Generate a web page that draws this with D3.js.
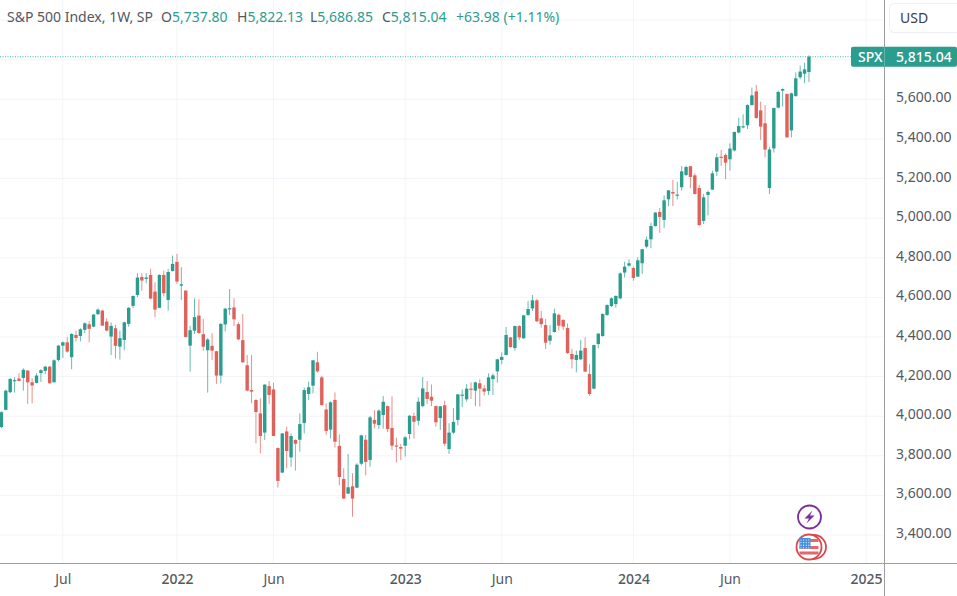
<!DOCTYPE html>
<html>
<head>
<meta charset="utf-8">
<script src="https://cdn.jsdelivr.net/npm/d3@7"></script>
<style>
  html, body { margin: 0; padding: 0; background: #fff; overflow: hidden; }
  svg { display: block; font-family: "Noto Sans", sans-serif; }
</style>
</head>
<body>
<svg id="chart" width="957" height="596"></svg>
<script>
// --- Weekly candles -------------------------------------------------
const firstWeek = "2021-03-29";

const opens = [
  3945,4032,4121,4180,4190,4193,4230,4171,4168,4218,
  4229,4250,4171,4284,4356,4373,4298,4410,4405,4436,
  4464,4452,4515,4533,4478,4402,4444,4351,4385,4466,
  4557,4612,4703,4693,4713,4629,4547,4713,4587,4733,
  4779,4659,4634,4356,4432,4508,4414,4333,4355,4328,
  4205,4463,4541,4549,4465,4384,4257,4132,4082,4014,
  3917,4152,4135,3839,3715,3923,3792,3880,3881,3965,
  4112,4154,4272,4196,4034,3932,4082,3850,3683,3609,
  3646,3639,3760,3881,3779,3981,3955,4006,4051,3940,
  3852,3844,3851,3910,4001,3977,4051,4122,4098,4051,
  3991,4055,3834,3917,3981,4105,4085,4139,4129,4166,
  4140,4127,4187,4226,4284,4309,4398,4344,4455,4393,
  4511,4544,4585,4494,4460,4381,4425,4512,4486,4445,
  4314,4284,4287,4344,4213,4139,4364,4405,4511,4556,
  4566,4595,4725,4760,4748,4705,4772,4856,4893,4960,
  5031,4991,5095,5132,5114,5156,5218,5262,5216,5152,
  4986,5117,5144,5235,5310,5319,5297,5342,5432,5459,
  5469,5571,5640,5544,5479,5152,5352,5558,5644,5627,
  5443,5617,5711,5729,5737.8
];
const highs = [
  4025,4133,4192,4197,4217,4242,4234,4192,4217,4237,
  4254,4254,4287,4360,4377,4399,4419,4432,4444,4473,
  4481,4516,4545,4537,4494,4473,4461,4432,4478,4550,
  4609,4722,4722,4722,4744,4676,4717,4735,4744,4811,
  4820,4752,4636,4456,4595,4590,4491,4394,4419,4330,
  4469,4547,4642,4595,4474,4516,4309,4309,4085,4090,
  4162,4177,4169,3842,3915,3947,3913,3883,4014,4145,
  4174,4284,4325,4204,4065,4075,4120,3908,3737,3809,
  3712,3762,3907,3905,4001,4031,4035,4102,4053,4100,
  3891,3859,3900,4006,4018,4095,4198,4177,4160,4053,
  4051,4078,3964,4041,4112,4135,4162,4171,4174,4186,
  4157,4216,4216,4290,4322,4450,4400,4457,4460,4512,
  4581,4612,4592,4531,4491,4460,4543,4519,4489,4469,
  4339,4331,4385,4398,4262,4361,4418,4519,4565,4600,
  4610,4726,4780,4792,4755,4802,4845,4907,4977,5031,
  5051,5115,5142,5193,5184,5263,5265,5263,5226,5167,
  5122,5139,5240,5327,5344,5327,5378,5437,5507,5524,
  5575,5659,5672,5588,5571,5361,5558,5644,5655,5629,
  5634,5736,5770,5785,5822.13
];
const lows = [
  3940,4030,4116,4119,4176,4129,4062,4065,4166,4173,
  4212,4165,4170,4277,4294,4321,4237,4377,4378,4419,
  4373,4449,4511,4456,4429,4309,4291,4286,4333,4452,
  4545,4601,4634,4671,4590,4500,4545,4604,4533,4730,
  4668,4587,4397,4225,4415,4415,4330,4119,4284,4163,
  4166,4427,4511,4455,4384,4270,4125,4065,3863,3812,
  3880,4061,3898,3639,3713,3737,3745,3725,3821,3913,
  4082,4115,4220,4054,3905,3888,3841,3651,3582,3607,
  3492,3637,3752,3701,3745,3938,3935,3937,3920,3829,
  3767,3779,3796,3883,3886,3954,4045,4061,4051,3947,
  3930,3849,3809,3910,3954,4045,4073,4087,4051,4048,
  4104,4107,4107,4169,4262,4307,4346,4331,4385,4391,
  4507,4531,4475,4447,4339,4361,4422,4432,4435,4314,
  4241,4221,4284,4223,4103,4135,4344,4401,4507,4551,
  4548,4590,4700,4755,4684,4703,4718,4848,4848,4957,
  4925,4949,5061,5061,5095,5139,5213,5151,5119,4960,
  4970,5014,5142,5213,5263,5196,5240,5337,5428,5453,
  5450,5568,5502,5395,5307,5122,5331,5554,5563,5406,
  5408,5612,5701,5681,5686.85
];
const closes = [
  4020,4129,4188,4182,4178,4234,4171,4155,4205,4232,
  4250,4166,4282,4356,4373,4326,4415,4395,4439,4469,
  4441,4513,4538,4457,4432,4456,4355,4394,4474,4547,
  4607,4700,4685,4700,4594,4538,4713,4621,4728,4769,
  4680,4666,4400,4434,4500,4420,4351,4387,4331,4205,
  4466,4543,4545,4489,4388,4272,4129,4124,4021,3900,
  4159,4107,3900,3673,3913,3824,3900,3861,3960,4132,
  4146,4282,4226,4056,3925,4070,3871,3693,3584,3641,
  3584,3755,3903,3769,3994,3962,4028,4073,3935,3851,
  3846,3836,3893,4002,3972,4073,4140,4087,4078,3969,
  4050,3861,3917,3971,4110,4109,4139,4134,4171,4139,
  4124,4196,4206,4287,4299,4410,4349,4455,4398,4509,
  4541,4585,4479,4465,4371,4408,4519,4457,4452,4319,
  4287,4309,4331,4225,4112,4359,4417,4516,4561,4595,
  4607,4721,4755,4772,4698,4787,4843,4891,4960,5028,
  5006,5090,5140,5124,5119,5236,5258,5208,5122,4965,
  5105,5132,5226,5307,5305,5280,5351,5435,5465,5464,
  5571,5620,5506,5462,5346,5347,5556,5637,5652,5408,
  5630,5706,5740,5751.06,5815.04
];

const priceGrid = [3400,3600,3800,4000,4200,4400,4600,4800,5000,5200,5400,5600,5800,6000];
const priceLabels = [3400,3600,3800,4000,4200,4400,4600,4800,5000,5200,5400,5600];
const timeTicks = ["2021-07-05","2022-01-03","2022-06-06","2023-01-02","2023-06-05","2024-01-01","2024-06-03","2025-01-06"];
const timeLabels = ["Jul","2022","Jun","2023","Jun","2024","Jun","2025"];

const upColor = "#2a9d8f";
const downColor = "#e0605a";
const gridColor = "#f2f4f9";
const lineColor = "#9a9da3";
const textColor = "#555860";

// --- Scales ----------------------------------------------------------
const svg = d3.select("#chart");
const plotRight = 884, plotBottom = 563;
const parseDay = d3.utcParse("%Y-%m-%d");
const fmtPrice = d3.format(",.2f");

const x = d3.scaleUtc()
  .domain([parseDay(firstWeek), parseDay("2025-01-06")])
  .range([1.4, 866]);
const y = d3.scaleLinear().domain([3400, 5600]).range([535, 99.3]);

const lastClose = closes[closes.length - 1];
const candles = opens.map((o, i) => ({
  date: d3.utcMonday.offset(parseDay(firstWeek), i),
  o, h: highs[i], l: lows[i], c: closes[i],
}));

// --- Grid ------------------------------------------------------------
const tickDates = timeTicks.map(parseDay);

svg.append("g").selectAll("line").data(tickDates).enter().append("line")
  .attr("x1", (d) => x(d)).attr("x2", (d) => x(d))
  .attr("y1", 0).attr("y2", plotBottom)
  .attr("stroke", gridColor);
svg.append("g").selectAll("line").data(priceGrid).enter().append("line")
  .attr("x1", 0).attr("x2", plotRight)
  .attr("y1", (d) => y(d)).attr("y2", (d) => y(d))
  .attr("stroke", gridColor);

// --- Candles ---------------------------------------------------------
const candleSel = svg.append("g").selectAll("g").data(candles).enter().append("g")
  .attr("fill", (d) => (d.c >= d.o ? upColor : downColor))
  .attr("stroke", (d) => (d.c >= d.o ? upColor : downColor));
candleSel.append("line")
  .attr("x1", (d) => x(d.date)).attr("x2", (d) => x(d.date))
  .attr("y1", (d) => y(d.h)).attr("y2", (d) => y(d.l))
  .attr("stroke-width", 1).attr("stroke-opacity", 0.7);
candleSel.append("rect")
  .attr("x", (d) => x(d.date) - 1.7).attr("width", 3.4)
  .attr("y", (d) => y(Math.max(d.o, d.c)))
  .attr("height", (d) => Math.max(1.2, Math.abs(y(d.o) - y(d.c))))
  .attr("stroke", "none");

// Last price line
svg.append("line")
  .attr("x1", 0).attr("x2", 851)
  .attr("y1", y(lastClose)).attr("y2", y(lastClose))
  .attr("stroke", "#26a69a").attr("stroke-width", 0.8)
  .attr("stroke-dasharray", "1 1.5");

// --- Axes ------------------------------------------------------------
svg.append("rect").attr("x", plotRight).attr("y", 0)
  .attr("width", 957 - plotRight).attr("height", 596).attr("fill", "#fff");
svg.append("rect").attr("x", 0).attr("y", plotBottom)
  .attr("width", 957).attr("height", 596 - plotBottom).attr("fill", "#fff");

const yAxis = svg.append("g")
  .attr("transform", `translate(${plotRight},0)`)
  .call(d3.axisRight(y).tickValues(priceLabels).tickSize(0).tickPadding(12).tickFormat(fmtPrice));
yAxis.select(".domain").remove();
yAxis.selectAll("text")
  .attr("dy", "0.18em")
  .attr("fill", textColor).attr("font-size", 14)
  .attr("font-family", '"Noto Sans", sans-serif');

const xAxis = svg.append("g")
  .attr("transform", `translate(0,${plotBottom})`)
  .call(d3.axisBottom(x).tickValues(tickDates).tickSize(0).tickPadding(11)
    .tickFormat((d, i) => timeLabels[i]));
xAxis.select(".domain").remove();
xAxis.selectAll("text")
  .attr("fill", textColor).attr("font-size", 14)
  .attr("font-family", '"Noto Sans", sans-serif')
  .attr("font-weight", (d, i) => (/^\d/.test(timeLabels[i]) ? 500 : 400));

svg.append("line").attr("x1", 0).attr("x2", 957)
  .attr("y1", plotBottom + 0.5).attr("y2", plotBottom + 0.5).attr("stroke", lineColor);
svg.append("line").attr("x1", plotRight + 0.5).attr("x2", plotRight + 0.5)
  .attr("y1", 0).attr("y2", 596).attr("stroke", lineColor);

// --- Last price tag and currency button --------------------------------
svg.append("rect").attr("x", 851).attr("y", y(lastClose) - 10)
  .attr("width", 106).attr("height", 20).attr("rx", 2).attr("fill", "#2a9d8f");
svg.append("line").attr("x1", plotRight + 0.5).attr("x2", plotRight + 0.5)
  .attr("y1", y(lastClose) - 10).attr("y2", y(lastClose) + 10)
  .attr("stroke", "#fff").attr("stroke-opacity", 0.25);
svg.append("text").attr("x", 858).attr("y", y(lastClose) + 5)
  .attr("fill", "#fff").attr("font-size", 14).attr("font-weight", 500).text("SPX");
svg.append("text").attr("x", 896).attr("y", y(lastClose) + 5)
  .attr("fill", "#fff").attr("font-size", 14).attr("font-weight", 500).text(fmtPrice(lastClose));

svg.append("rect").attr("x", 889.5).attr("y", 3.5)
  .attr("width", 80).attr("height", 29).attr("rx", 5)
  .attr("fill", "#fff").attr("stroke", "#eceef2");
svg.append("text").attr("x", 900).attr("y", 22.5)
  .attr("fill", "#3a3d45").attr("font-size", 14).text("USD");

// --- Legend line -------------------------------------------------------
const last = candles[candles.length - 1];
const change = last.c - closes[closes.length - 2];
const legendParts = [
  { at: 7, label: "S&P 500 Index, 1W, SP", value: "" },
  { at: 161, label: "O", value: fmtPrice(last.o) },
  { at: 237, label: "H", value: fmtPrice(last.h) },
  { at: 310, label: "L", value: fmtPrice(last.l) },
  { at: 382, label: "C", value: fmtPrice(last.c) },
  { at: 456, label: "", value: `+${change.toFixed(2)} (+1.11%)` },
];
const legend = svg.append("g").selectAll("text").data(legendParts).enter().append("text")
  .attr("x", (d) => d.at).attr("y", 22).attr("font-size", 14);
legend.append("tspan").attr("fill", textColor).text((d) => d.label);
legend.append("tspan").attr("fill", "#2a9d8f").text((d) => d.value);

// --- Event badges ------------------------------------------------------
const earnings = svg.append("g").attr("transform", "translate(809.5,517)");
earnings.append("circle").attr("r", 11.5).attr("fill", "#fff")
  .attr("stroke", "#7b2f9e").attr("stroke-width", 1.8);
earnings.append("path").attr("d", "M3,-6.5L-5,1.5H-0.5L-3,6.5L5,-1.5H0.5Z").attr("fill", "#7b2f9e");

const flag = svg.append("g").attr("transform", "translate(809,547)");
flag.append("circle").attr("cx", 5).attr("r", 12).attr("fill", "#fff")
  .attr("stroke", "#d9494d").attr("stroke-width", 1.8);
flag.append("circle").attr("r", 12.5).attr("fill", "#fff")
  .attr("stroke", "#d9494d").attr("stroke-width", 1.8);
[-6.5, 0.5, 6].forEach((dy) => {
  flag.append("rect").attr("x", -9.5).attr("y", dy - 1.5)
    .attr("width", 19).attr("height", 3).attr("fill", "#e2686b");
});
flag.append("rect").attr("x", -9.5).attr("y", -9)
  .attr("width", 11).attr("height", 10.5).attr("fill", "#3f8fe0");
d3.range(-8, 1, 2.6).forEach((cx) => {
  d3.range(-7, 1, 2.6).forEach((cy) => {
    flag.append("circle").attr("cx", cx).attr("cy", cy).attr("r", 0.6).attr("fill", "#fff");
  });
});
</script>
</body>
</html>
